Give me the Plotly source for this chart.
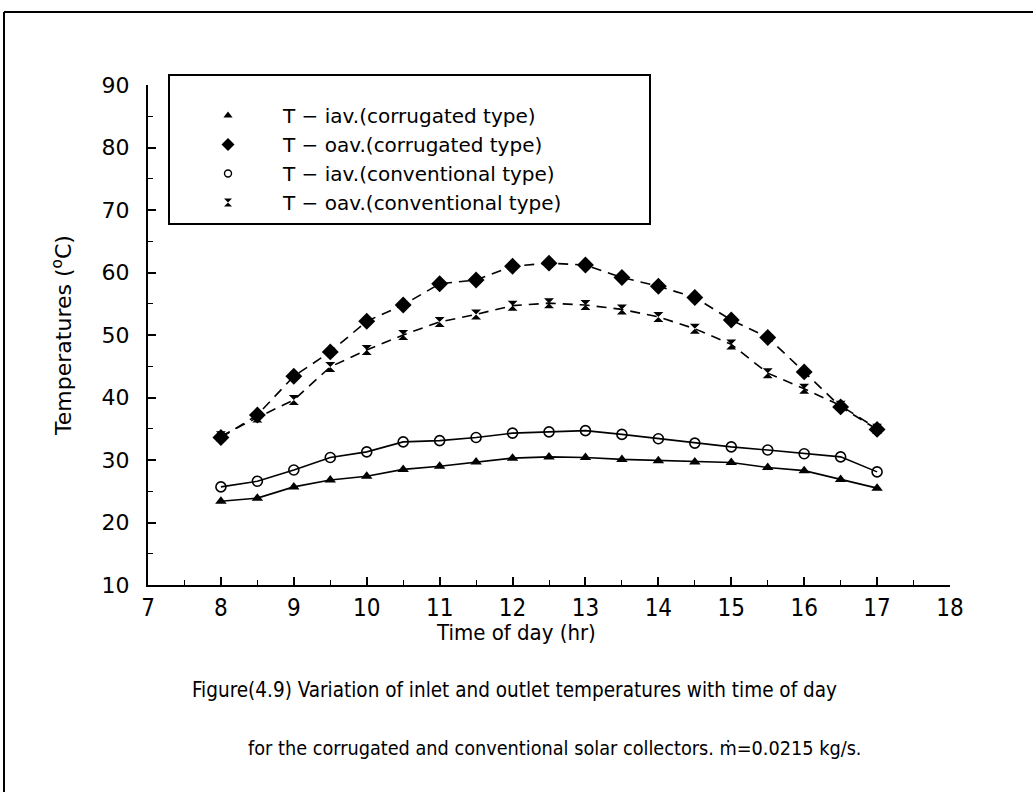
import plotly.graph_objects as go

# Time of day (hr)
hours = [8, 8.5, 9, 9.5, 10, 10.5, 11, 11.5, 12, 12.5, 13, 13.5, 14, 14.5, 15, 15.5, 16, 16.5, 17]

# Average inlet / outlet temperatures (deg C)
t_iav_corrugated = [23.4, 23.9, 25.7, 26.8, 27.4, 28.5, 29.0, 29.7, 30.3, 30.5, 30.4, 30.1, 29.9, 29.7, 29.6, 28.8, 28.3, 26.9, 25.5]
t_oav_corrugated = [33.6, 37.2, 43.4, 47.3, 52.2, 54.8, 58.2, 58.8, 61.0, 61.5, 61.2, 59.2, 57.8, 56.0, 52.4, 49.6, 44.1, 38.5, 34.9]
t_iav_conventional = [25.7, 26.6, 28.4, 30.4, 31.3, 32.9, 33.1, 33.6, 34.3, 34.5, 34.7, 34.1, 33.4, 32.7, 32.1, 31.6, 31.0, 30.5, 28.1]
t_oav_conventional = [33.8, 36.8, 39.6, 44.9, 47.6, 50.0, 52.1, 53.3, 54.7, 55.1, 54.8, 54.1, 52.9, 51.0, 48.5, 43.9, 41.4, 38.7, 35.0]

series_names = [
    "T \u2212 iav.(corrugated type)",
    "T \u2212 oav.(corrugated type)",
    "T \u2212 iav.(conventional type)",
    "T \u2212 oav.(conventional type)",
]

x_tick_vals = list(range(7, 19))
y_tick_vals = list(range(10, 100, 10))

x_title = "Time of day (hr)"
y_title = "Temperatures (<sup>o</sup>C)"
caption_line1 = "Figure(4.9) Variation of inlet and outlet temperatures with time of day"
caption_line2 = "for the corrugated and conventional solar collectors. \u1e41=0.0215 kg/s."

WIDE = "DejaVu Sans, Verdana, sans-serif"
NARROW = "Liberation Sans Narrow, DejaVu Sans Condensed, Arial Narrow, DejaVu Sans, sans-serif"

# (values, plot marker, legend marker, dash)
styles = [
    (t_iav_corrugated,
     dict(symbol="triangle-up", size=10, color="black"),
     dict(symbol="triangle-up", size=8, color="black"), "solid"),
    (t_oav_corrugated,
     dict(symbol="diamond", size=13, color="black"),
     dict(symbol="diamond", size=10, color="black"), "10px,7px"),
    (t_iav_conventional,
     dict(symbol="circle-open", size=10, color="black", line=dict(width=1.6, color="black")),
     dict(symbol="circle-open", size=7, color="black", line=dict(width=1.4, color="black")), "solid"),
    (t_oav_conventional,
     dict(symbol="hourglass", size=10, color="black"),
     dict(symbol="hourglass", size=8, color="black"), "10px,7px"),
]

fig = go.Figure()

# Curves with markers (not in legend)
for vals, marker, _, dash in styles:
    fig.add_trace(go.Scatter(
        x=hours, y=vals, mode="lines+markers",
        line=dict(color="black", width=1.6, dash=dash),
        marker=marker, showlegend=False, hoverinfo="skip",
    ))

# Marker-only legend entries
for (_, _, leg_marker, _), name in zip(styles, series_names):
    fig.add_trace(go.Scatter(
        x=[None], y=[None], mode="markers", marker=leg_marker, name=name, showlegend=True,
    ))

L, R, T, B = 148, 84, 85, 207
PW, PH = 1034 - L - R, 792 - T - B


def px(xp):
    return (xp - L) / PW


def py(yp):
    return (792 - B - yp) / PH


shapes = [
    # legend frame
    dict(type="rect", xref="paper", yref="paper", x0=px(169), x1=px(650), y0=py(224), y1=py(75),
         line=dict(color="black", width=2), fillcolor="rgba(0,0,0,0)", layer="above"),
    # page frame (top and left edges)
    dict(type="line", xref="paper", yref="paper", x0=px(4), x1=px(1033), y0=py(12), y1=py(12),
         line=dict(color="black", width=2)),
    dict(type="line", xref="paper", yref="paper", x0=px(4), x1=px(4), y0=py(12), y1=py(792),
         line=dict(color="black", width=2)),
]

annotations = [
    dict(text=x_title, xref="paper", yref="paper", x=px(516), y=py(632),
         xanchor="center", yanchor="middle", showarrow=False,
         font=dict(family=NARROW, size=22, color="black")),
    dict(text=caption_line1, xref="paper", yref="paper", x=px(190), y=py(690),
         xanchor="left", yanchor="middle", showarrow=False,
         font=dict(family=NARROW, size=20.5, color="black")),
    dict(text=caption_line2, xref="paper", yref="paper", x=px(246), y=py(748),
         xanchor="left", yanchor="middle", showarrow=False,
         font=dict(family=NARROW, size=19.7, color="black")),
]

fig.update_layout(
    width=1034, height=792,
    margin=dict(l=L, r=R, t=T, b=B),
    paper_bgcolor="white", plot_bgcolor="white",
    showlegend=True,
    legend=dict(
        x=px(173), y=py(96), xanchor="left", yanchor="top",
        bgcolor="rgba(0,0,0,0)", borderwidth=0,
        itemwidth=100, font=dict(family=WIDE, size=20, color="black"),
        tracegroupgap=0,
    ),
    shapes=shapes,
    annotations=annotations,
    xaxis=dict(
        range=[7, 18], tickvals=x_tick_vals, showgrid=False, zeroline=False,
        showline=True, linecolor="black", linewidth=2, mirror=False,
        ticks="inside", ticklen=8, tickwidth=1.5, tickcolor="black",
        minor=dict(dtick=0.5, ticks="inside", ticklen=5, tickwidth=1.2, tickcolor="black", showgrid=False),
        tickfont=dict(family=NARROW, size=24, color="black"),
    ),
    yaxis=dict(
        range=[10, 90], tickvals=y_tick_vals, showgrid=False, zeroline=False,
        showline=True, linecolor="black", linewidth=2, mirror=False,
        ticks="inside", ticklen=8, tickwidth=1.5, tickcolor="black",
        minor=dict(dtick=5, ticks="inside", ticklen=5, tickwidth=1.2, tickcolor="black", showgrid=False),
        tickfont=dict(family=WIDE, size=22, color="black"),
        ticklabelstandoff=12,
        title=dict(text=y_title, font=dict(family=WIDE, size=22, color="black"), standoff=24),
    ),
)

fig.write_html("out.html")
